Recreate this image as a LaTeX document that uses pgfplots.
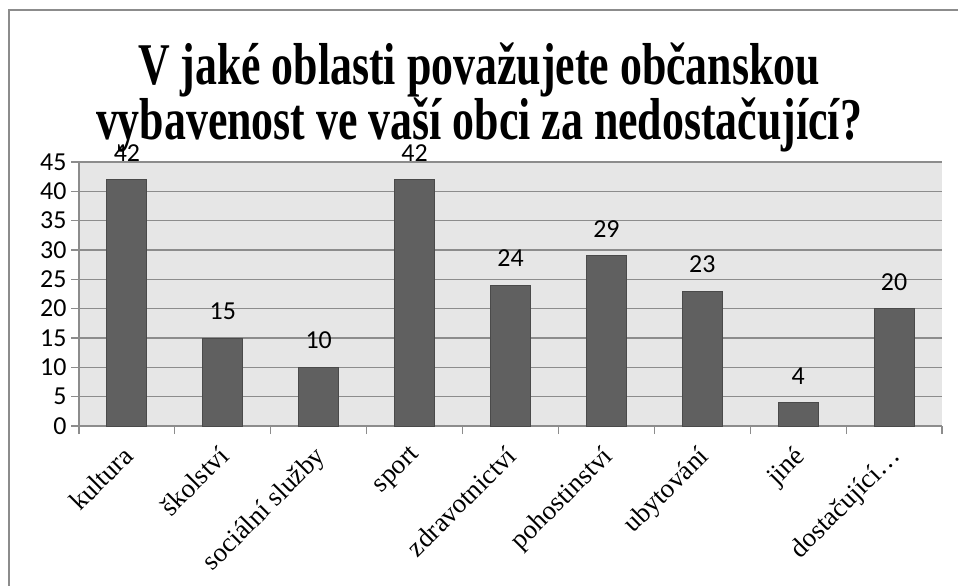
\documentclass[border=0pt]{standalone}
\usepackage{fontspec}
\setmainfont{Liberation Serif}
\newfontfamily\carlito{Carlito}
\usepackage{pgfplots}
\usepackage{pgfplotstable}
\pgfplotsset{compat=1.18}
\definecolor{gridgray}{HTML}{8C8C8C}
\definecolor{plotbg}{HTML}{E6E6E6}
\definecolor{barfill}{HTML}{606060}
\definecolor{baredge}{HTML}{4A4A4A}

\pgfplotstableread{
x y
0 42
1 15
2 10
3 42
4 24
5 29
6 23
7 4
8 20
}\answers

\begin{document}
\begin{tikzpicture}
\begin{axis}[
  name=ax,
  scale only axis,
  width=863bp, height=264bp,
  xmin=-0.5, xmax=8.5,
  ymin=0, ymax=45,
  ytick={0,5,...,45},
  xtick={-0.5,0.5,...,8.5},
  x tick label as interval,
  xticklabels={kultura,školství,sociální služby,sport,zdravotnictví,pohostinství,ubytování,jiné,dostačující…},
  axis x line=bottom, axis y line=left,
  axis line style={-, gridgray, line width=1.2bp},
  tick style={gridgray, line width=1.2bp},
  tick align=outside,
  major tick length=8bp,
  ymajorgrids,
  grid style={gridgray, line width=1.5bp},
  axis background/.style={fill=plotbg},
  /pgf/number format/assume math mode=true,
  y tick label style={font=\carlito\fontsize{26}{26}\selectfont, text=black, xshift=-1bp},
  x tick label style={font=\fontsize{27}{27}\selectfont, rotate=45, anchor=north east, xshift=-8bp},
  nodes near coords,
  every node near coord/.append style={font=\carlito\fontsize{26}{26}\selectfont, text=black, anchor=base, yshift=18.5bp},
]
\addplot[ybar, bar width=40bp, bar shift=0pt, fill=barfill, draw=baredge, line width=1bp] table[x=x, y=y] {\answers};
\end{axis}
\node[font=\bfseries\fontsize{44}{44}\selectfont, anchor=base, yscale=1.35, transform shape]
  at ([xshift=400bp, yshift=341bp]ax.south west) {V jaké oblasti považujete občanskou};
\node[font=\bfseries\fontsize{44}{44}\selectfont, anchor=base, yscale=1.35, transform shape]
  at ([xshift=400bp, yshift=286bp]ax.south west) {vybavenost ve vaší obci za nedostačující?};
\pgfresetboundingbox
\useasboundingbox ([xshift=-79bp, yshift=-160bp]ax.south west) rectangle ([xshift=879bp, yshift=426bp]ax.south west);
\draw[gridgray, line width=1.5bp] ([xshift=-70bp, yshift=-200bp]ax.south west) rectangle ([xshift=1000bp, yshift=416bp]ax.south west);
\end{tikzpicture}
\end{document}
